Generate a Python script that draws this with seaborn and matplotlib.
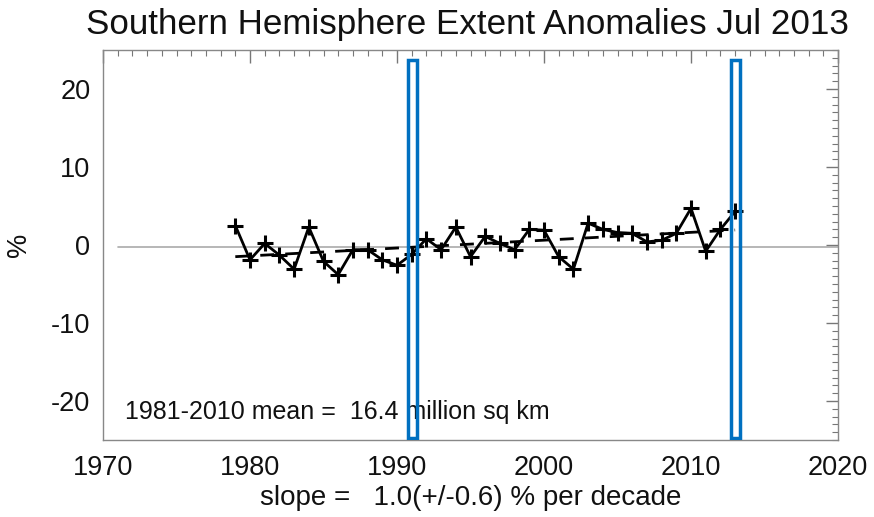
import numpy as np
import pandas as pd
import matplotlib
matplotlib.use("Agg")
import matplotlib.pyplot as plt
from matplotlib.patches import Rectangle
from matplotlib.ticker import MultipleLocator
import seaborn as sns

# July Southern Hemisphere sea-ice extent anomalies (%), 1979-2013
years = list(range(1979, 2014))
anomaly = [2.5, -1.9, 0.2, -1.3, -3.1, 2.3, -2.1, -3.8, -0.6, -0.6,
           -1.9, -2.6, -1.2, 0.8, -0.6, 2.3, -1.5, 1.1, 0.2, -0.6,
           2.0, 1.9, -1.5, -3.1, 2.8, 2.0, 1.6, 1.5, 0.4, 0.6,
           1.5, 4.7, -0.8, 2.0, 4.3]

title = "Southern Hemisphere Extent Anomalies Jul 2013"
mean_text = "1981-2010 mean =  16.4 million sq km"
slope_text = "slope =   1.0(+/-0.6) % per decade"
highlight_years = [1991, 2013]

sns.set_theme(style="white")
plt.rcParams["font.family"] = ["Liberation Sans", "DejaVu Sans"]
plt.rcParams["axes.unicode_minus"] = False

df = pd.DataFrame({"year": years, "anomaly": anomaly})
coef = np.polyfit(df["year"], df["anomaly"], 1)
df["trend"] = np.polyval(coef, df["year"])

fig = plt.figure(figsize=(8.74, 5.17), dpi=100)
ax = fig.add_axes([103 / 874, 1 - 440 / 517, 735 / 874, 390 / 517])

ax.plot([1971, 2020], [-0.3, -0.3], color="#aaaaaa", lw=1.2, zorder=1)
sns.lineplot(data=df, x="year", y="anomaly", ax=ax, color="black", lw=2,
             marker="+", markersize=11, markeredgewidth=2.2,
             markeredgecolor="black", zorder=3)
sns.lineplot(data=df, x="year", y="trend", ax=ax, color="black", lw=2,
             linestyle=(0, (5, 4)), zorder=2)

for yr in highlight_years:
    ax.add_patch(Rectangle((yr - 0.25, -24.7), 0.6, 48.4, fill=False,
                           edgecolor="#0070C0", lw=2.5, zorder=4))

ax.set_xlim(1970, 2020)
ax.set_ylim(-25, 25)
ax.xaxis.set_major_locator(MultipleLocator(10))
ax.xaxis.set_minor_locator(MultipleLocator(1))
ax.yaxis.set_major_locator(MultipleLocator(10))
ax.yaxis.set_minor_locator(MultipleLocator(1))
ax.tick_params(which="both", direction="in", top=True, right=True,
               color="#777777", labelsize=19.5, labelcolor="#111111")
ax.tick_params(which="major", length=9, width=1)
ax.tick_params(which="minor", length=4, width=0.8)
ax.tick_params(axis="x", which="major", pad=11)
ax.tick_params(axis="y", which="major", pad=9)
for s in ax.spines.values():
    s.set_color("#888888")
    s.set_linewidth(1)

ax.set_ylabel("%", fontsize=19.5, color="#111111")
ax.yaxis.set_label_coords(-0.097, 0.5)
ax.set_xlabel(slope_text, fontsize=20, labelpad=3, color="#111111")
ax.text(1971.5, -21.4, mean_text, fontsize=18, va="center", color="#111111")
fig.text(0.535, 0.952, title, fontsize=25.2, ha="center", va="center",
         color="#111111")

fig.savefig("out.png", dpi=100)
